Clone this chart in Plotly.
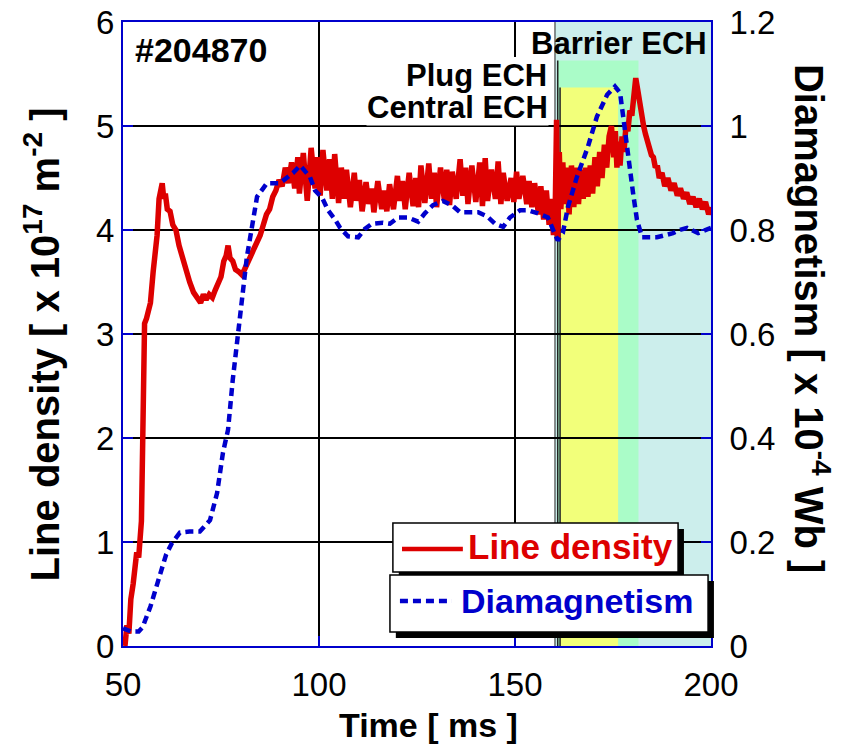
import plotly.graph_objects as go

# ---------------- data ----------------
# Line density [x 1e17 m^-2] : (time [ms], value)
density_samples = [
    (50.5, 0.0), (51, 0.2), (51.5, 0.12), (52, 0.45), (52.6, 0.6), (53, 0.75), (53.5, 0.9), (54, 0.85),
    (54.3, 1.02), (54.7, 1.2), (55, 1.9), (55.3, 2.5), (55.5, 3.1), (56, 3.15), (56.5, 3.25), (57, 3.3),
    (57.7, 3.6), (58.2, 3.75), (58.7, 3.95), (59.2, 4.3), (59.6, 4.4), (60, 4.45), (60.4, 4.3), (60.8, 4.35),
    (61.3, 4.2), (62, 4.18), (62.7, 4.05), (63.5, 4.0), (64.3, 3.85), (65, 3.75), (66, 3.6), (67, 3.5),
    (68, 3.4), (69, 3.35), (69.8, 3.3), (70.5, 3.38), (71.2, 3.33), (72, 3.38), (72.8, 3.35), (73.5, 3.42),
    (74.3, 3.5), (75, 3.55), (75.7, 3.7), (76.3, 3.75), (76.8, 3.85), (77.3, 3.73), (78, 3.7), (78.7, 3.62),
    (79.5, 3.6), (80.3, 3.57), (81, 3.62), (81.8, 3.7), (82.6, 3.75), (83.4, 3.82), (84.2, 3.88), (85, 3.95),
    (85.8, 4.05), (86.6, 4.15), (87.4, 4.2), (88.2, 4.32), (89, 4.38), (89.8, 4.48), (90.6, 4.42), (91.4, 4.6),
    (92.2, 4.45), (93, 4.65), (93.8, 4.4), (94.6, 4.7),
    (95, 4.35), (96, 4.74), (97, 4.28), (98, 4.79), (99, 4.4), (99.6, 4.7), (100.3, 4.33), (101, 4.77),
    (102, 4.38), (102.7, 4.68), (103.4, 4.3), (104, 4.73), (105, 4.26), (105.7, 4.6), (106.4, 4.3), (107, 4.58),
    (108, 4.22), (109, 4.55), (109.6, 4.28), (110.3, 4.48), (111, 4.18), (112, 4.46), (112.7, 4.25), (113.4, 4.4),
    (114, 4.17), (115, 4.47), (116, 4.2), (116.6, 4.38), (117.3, 4.18), (118, 4.44), (119, 4.2), (120, 4.52),
    (120.6, 4.28), (121.3, 4.47), (122, 4.2), (123, 4.55), (124, 4.23), (124.7, 4.5), (125.4, 4.22), (126, 4.62),
    (127, 4.26), (128, 4.64), (128.7, 4.3), (129.4, 4.55), (130, 4.22), (131, 4.6), (132, 4.28), (132.6, 4.58),
    (133.3, 4.24), (134, 4.56), (135, 4.3), (136, 4.68), (136.7, 4.33), (137.4, 4.6), (138, 4.25), (139, 4.62),
    (140, 4.27), (141, 4.65), (141.7, 4.23), (142.4, 4.69), (143, 4.28), (144, 4.58), (145, 4.3), (145.7, 4.66),
    (146.4, 4.25), (147, 4.55), (148, 4.28), (149, 4.5), (149.7, 4.27), (150.4, 4.56), (151, 4.3), (152, 4.52),
    (153, 4.25), (153.6, 4.47), (154.3, 4.22), (155, 4.45), (156, 4.15), (156.6, 4.42), (157.3, 4.1), (158, 4.38),
    (158.7, 4.05), (159.3, 4.3), (159.8, 3.95), (160.3, 4.3), (160.6, 5.06), (160.9, 3.9), (161.3, 4.75),
    (161.7, 4.2), (162.2, 4.65), (162.7, 4.25), (163.2, 4.6), (163.8, 4.15), (164.4, 4.62), (165, 4.22),
    (165.6, 4.6), (166.2, 4.25), (166.8, 4.58), (167.4, 4.3), (168, 4.6), (168.6, 4.32), (169.2, 4.62),
    (169.8, 4.35), (170.4, 4.7), (171, 4.42), (171.6, 4.75), (172.2, 4.5), (172.8, 4.82), (173.4, 4.6),
    (174, 4.9), (174.6, 5.0), (175.2, 4.7), (175.6, 4.95), (176, 4.6), (176.4, 4.85), (176.8, 4.62),
    (177.3, 4.9), (177.8, 4.75), (178.3, 5.0), (178.8, 4.95), (179.3, 5.15), (179.8, 5.1), (180.3, 5.35),
    (180.8, 5.46), (181.3, 5.35), (181.8, 5.2), (182.3, 5.1), (182.8, 5.0), (183.3, 4.92), (183.8, 4.85),
    (184.3, 4.82), (184.8, 4.72), (185.3, 4.7), (185.8, 4.6), (186.3, 4.62), (186.8, 4.5), (187.5, 4.55),
    (188.2, 4.42), (189, 4.5), (189.8, 4.38), (190.6, 4.45), (191.4, 4.33), (192.2, 4.4), (193, 4.3),
    (193.8, 4.36), (194.6, 4.25), (195.4, 4.32), (196.2, 4.22), (197, 4.3), (197.8, 4.2), (198.6, 4.27),
    (199.4, 4.15), (200, 4.22),
]

# Diamagnetism [x 1e-4 Wb] : (time [ms], value)
diamag_samples = [
    (50, 0.034), (52, 0.028), (54, 0.028), (55, 0.036), (57, 0.076), (59.4, 0.14), (61, 0.176), (62.5, 0.198),
    (64.5, 0.218), (67, 0.22), (69.6, 0.22), (72.2, 0.242), (74, 0.294), (75.5, 0.372), (76.8, 0.416),
    (78, 0.512), (79, 0.58), (79.8, 0.626), (80.6, 0.684), (81.6, 0.748), (82.9, 0.806), (84.2, 0.864),
    (86.7, 0.89), (90, 0.89), (93.4, 0.91), (95.2, 0.924), (97.7, 0.902), (99, 0.876), (100.8, 0.862),
    (102.3, 0.838), (104.1, 0.82), (105.4, 0.804), (107.4, 0.788), (110, 0.786), (111.7, 0.802),
    (113.5, 0.812), (116.3, 0.814), (118.1, 0.812), (120.2, 0.824), (122.7, 0.824), (125.3, 0.816),
    (127, 0.832), (129.1, 0.848), (131.6, 0.856), (134.2, 0.846), (136, 0.834), (138.5, 0.834),
    (140.6, 0.834), (142.9, 0.826), (144.9, 0.812), (147, 0.806), (148.7, 0.824), (151.3, 0.838),
    (153.3, 0.838), (155.9, 0.832), (158.4, 0.824), (159.4, 0.806), (160.9, 0.78), (162.2, 0.794),
    (163.5, 0.844), (165.8, 0.902), (168.6, 0.96), (170.9, 1.018), (173.5, 1.06), (175.5, 1.076),
    (176.8, 1.064), (177.6, 1.018), (178.8, 0.94), (180.1, 0.872), (181.1, 0.82), (182.4, 0.786),
    (186.2, 0.786), (190.3, 0.794), (192, 0.8), (193.9, 0.804), (196.7, 0.794), (199.7, 0.804), (200, 0.804),
]
time_density = [t for t, _ in density_samples]
line_density = [v for _, v in density_samples]
time_diamag = [t for t, _ in diamag_samples]
diamagnetism = [v for _, v in diamag_samples]

# ECH heating windows: name, start [ms], end [ms], top (line-density units)
ech_names = ["Barrier ECH", "Plug ECH", "Central ECH"]
ech_start = [160.2, 160.9, 161.5]
ech_end = [200, 181.5, 176.3]
ech_top = [6.0, 5.63, 5.37]
ech_colors = ["#CCEEEC", "#AAFCC8", "#F2FF7A"]

x_ticks = [50, 100, 150, 200]
y_ticks = [0, 1, 2, 3, 4, 5, 6]
y2_ticks = [0, 0.2, 0.4, 0.6, 0.8, 1.0, 1.2]
shot_label = "#204870"

RED = "#DD0000"
BLUE = "#0000CC"
FONT = "Liberation Sans, Arial, sans-serif"

fig = go.Figure()
fig.add_trace(go.Scatter(x=time_density, y=line_density, mode="lines",
                         line=dict(color=RED, width=5.5), showlegend=False, yaxis="y"))
fig.add_trace(go.Scatter(x=time_diamag, y=diamagnetism, mode="lines",
                         line=dict(color=BLUE, width=4.5, dash="8px,5px"), showlegend=False, yaxis="y2"))

shapes = []
for s, e, top, c in zip(ech_start, ech_end, ech_top, ech_colors):
    shapes.append(dict(type="rect", xref="x", yref="y", x0=s, x1=e, y0=0, y1=top,
                       fillcolor=c, line=dict(width=0), layer="below"))
    shapes.append(dict(type="line", xref="x", yref="y", x0=s, x1=s, y0=0, y1=top,
                       line=dict(color="#222222", width=1.5 if top < 6 else 1), layer="below"))

def box(x0, x1, y0, y1, fill, lw, xref="paper", yref="paper"):
    return dict(type="rect", xref=xref, yref=yref, x0=x0, x1=x1, y0=y0, y1=y1,
                fillcolor=fill, line=dict(color="black", width=lw), layer="above")

shapes += [
    # white backing behind the "Plug ECH" label (hides the gridline like the reference)
    box(0.481, 0.7295, 0.886, 0.944, "white", 0),
    box(0.469, 0.954, 0.109, 0.1875, "black", 0),
    box(0.459, 0.944, 0.1186, 0.197, "white", 1.5),
    box(0.464, 1.005, 0.0128, 0.104, "black", 0),
    box(0.454, 0.995, 0.0224, 0.1138, "white", 1.5),
    dict(type="line", xref="paper", yref="paper", x0=0.4745, x1=0.578, y0=0.1554, y1=0.1554,
         line=dict(color=RED, width=4.5), layer="above"),
    dict(type="line", xref="paper", yref="paper", x0=0.471, x1=0.5595, y0=0.0721, y1=0.0721,
         line=dict(color=BLUE, width=4.5, dash="8px,5px"), layer="above"),
]

ann = []
ann.append(dict(text=shot_label, x=0.017, y=0.955, xref="paper", yref="paper", xanchor="left", yanchor="middle",
                showarrow=False, font=dict(family=FONT, size=34, color="black", weight="bold")))
ann.append(dict(text=ech_names[0], x=199.4, y=5.79, xref="x", yref="y", xanchor="right", yanchor="middle",
                showarrow=False, font=dict(family=FONT, size=31, color="black", weight="bold")))
ann.append(dict(text=ech_names[2], x=158.6, y=5.18, xref="x", yref="y", xanchor="right", yanchor="middle",
                showarrow=False, bgcolor="white", borderpad=0,
                font=dict(family=FONT, size=31, color="black", weight="bold")))
ann.append(dict(text=ech_names[1], x=158.6, y=5.49, xref="x", yref="y", xanchor="right", yanchor="middle",
                showarrow=False,
                font=dict(family=FONT, size=31, color="black", weight="bold")))
ann.append(dict(text="Line density", x=0.583, y=0.1587, xref="paper", yref="paper", xanchor="left",
                yanchor="middle", showarrow=False, font=dict(family=FONT, size=35, color=RED, weight="bold")))
ann.append(dict(text="Diamagnetism", x=0.571, y=0.0721, xref="paper", yref="paper", xanchor="left",
                yanchor="middle", showarrow=False, font=dict(family=FONT, size=34, color=BLUE, weight="bold")))
ann.append(dict(text="Time [ ms ]", x=0.52, y=-0.1266, xref="paper", yref="paper", xanchor="center",
                yanchor="middle", showarrow=False, font=dict(family=FONT, size=34, color="black", weight="bold")))
ann.append(dict(text="Line density [ x 10<sup>17</sup> m<sup>-2</sup> ]", x=-0.137, y=0.484, xref="paper",
                yref="paper", xanchor="center", yanchor="middle", textangle=-90, showarrow=False,
                font=dict(family=FONT, size=40, color="black", weight="bold")))
ann.append(dict(text="Diamagnetism [ x 10<sup>-4</sup> Wb ]", x=1.172, y=0.5256, xref="paper",
                yref="paper", xanchor="center", yanchor="middle", textangle=90, showarrow=False,
                font=dict(family=FONT, size=40, color="black", weight="bold")))

axis_common = dict(ticks="inside", ticklen=10, tickwidth=1.5, tickcolor=BLUE, showline=True, linecolor=BLUE,
                   linewidth=2, zeroline=False, automargin=False,
                   tickfont=dict(family=FONT, size=33, color="black"))

fig.update_layout(
    width=842, height=746,
    margin=dict(l=123, r=131, t=22, b=100, autoexpand=False),
    paper_bgcolor="white", plot_bgcolor="white",
    showlegend=False,
    xaxis=dict(range=[50, 200], tickvals=x_ticks, mirror=True, gridcolor="black", gridwidth=1.5,
               ticklabelstandoff=8, **axis_common),
    yaxis=dict(range=[0, 6], tickvals=y_ticks, gridcolor="black", gridwidth=1.5, **axis_common),
    yaxis2=dict(range=[0, 1.2], tickvals=y2_ticks, overlaying="y", side="right", showgrid=False,
                ticklabelstandoff=10, **axis_common),
    shapes=shapes,
    annotations=ann,
)

fig.write_html("out.html")
